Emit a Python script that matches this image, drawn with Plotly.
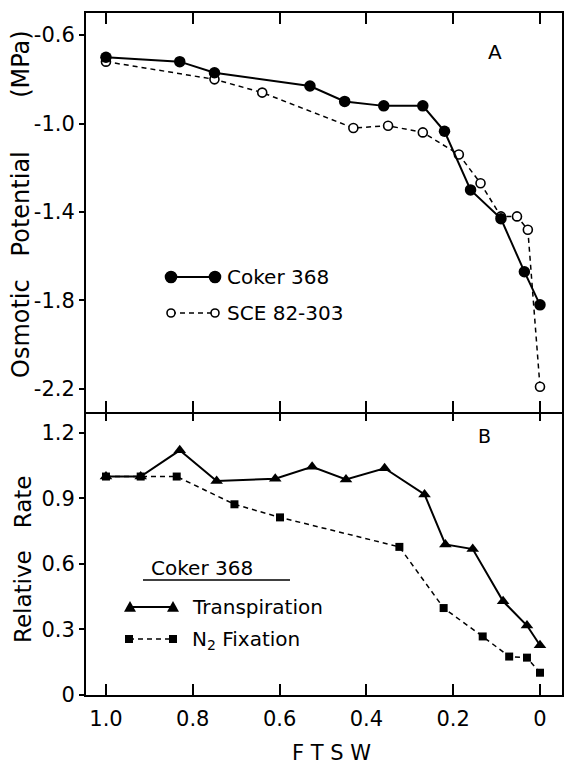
import plotly.graph_objects as go

# ---------------- data ----------------
# Panel A: osmotic potential (MPa) vs FTSW
coker_ftsw = [1.0, 0.83, 0.75, 0.53, 0.45, 0.36, 0.27, 0.22, 0.16, 0.09, 0.036, 0.0]
coker_osm = [-0.70, -0.72, -0.77, -0.83, -0.90, -0.92, -0.92, -1.035, -1.30, -1.43, -1.67, -1.82]

sce_ftsw = [1.0, 0.75, 0.64, 0.43, 0.35, 0.27, 0.187, 0.137, 0.09, 0.053, 0.028, 0.0]
sce_osm = [-0.72, -0.80, -0.86, -1.02, -1.01, -1.04, -1.14, -1.27, -1.42, -1.42, -1.48, -2.19]

# Panel B: relative rate vs FTSW (Coker 368)
trans_ftsw = [1.0, 0.92, 0.83, 0.745, 0.61, 0.525, 0.447, 0.358, 0.266, 0.218, 0.155, 0.085, 0.03, 0.0]
trans_rate = [1.0, 1.0, 1.12, 0.98, 0.99, 1.045, 0.987, 1.038, 0.918, 0.689, 0.668, 0.429, 0.318, 0.228]

n2_ftsw = [1.0, 0.92, 0.837, 0.704, 0.599, 0.324, 0.222, 0.132, 0.071, 0.03, 0.0]
n2_rate = [1.0, 1.0, 1.0, 0.873, 0.813, 0.678, 0.398, 0.268, 0.176, 0.171, 0.102]

x_tickvals = [1.0, 0.8, 0.6, 0.4, 0.2, 0.0]
x_ticktext = ["1.0", "0.8", "0.6", "0.4", "0.2", "0"]
ya_tickvals = [-0.6, -1.0, -1.4, -1.8, -2.2]
ya_ticktext = ["-0.6", "-1.0", "-1.4", "-1.8", "-2.2"]
yb_tickvals = [0, 0.3, 0.6, 0.9, 1.2]
yb_ticktext = ["0", "0.3", "0.6", "0.9", "1.2"]

# ---------------- layout geometry ----------------
W, H = 564, 766
L, R, T, B = 86, 2, 13, 71
PW, PH = W - L - R, H - T - B
DIV = (695 - 411) / PH  # bottom panel fraction
EPS = 1.0 / PH          # overlap so the two divider lines coincide

FONT = "DejaVu Sans"
X_RANGE = [1.046, -0.0507]
YA_RANGE = [-2.3 - 1.0 / 220.6, -0.5]
YB_RANGE = [0, 1.3 + 1.0 / 217.8]


def px(x):
    return (x - L) / PW


def py(y):
    return (H - B - y) / PH


fig = go.Figure()

# Panel A traces
fig.add_trace(go.Scatter(
    x=sce_ftsw, y=sce_osm, xaxis="x2", yaxis="y2", mode="lines+markers",
    line=dict(color="black", width=1.5, dash="5px,4px"),
    marker=dict(symbol="circle", size=9, color="white", line=dict(color="black", width=1.6)),
    showlegend=False))
fig.add_trace(go.Scatter(
    x=coker_ftsw, y=coker_osm, xaxis="x2", yaxis="y2", mode="lines+markers",
    line=dict(color="black", width=2),
    marker=dict(symbol="circle", size=11.5, color="black"),
    showlegend=False))

# Panel B traces
fig.add_trace(go.Scatter(
    x=n2_ftsw, y=n2_rate, xaxis="x", yaxis="y", mode="lines+markers",
    line=dict(color="black", width=1.5, dash="5px,4px"),
    marker=dict(symbol="square", size=8, color="black"),
    showlegend=False))
fig.add_trace(go.Scatter(
    x=trans_ftsw, y=trans_rate, xaxis="x", yaxis="y", mode="lines+markers",
    line=dict(color="black", width=2),
    marker=dict(symbol="triangle-up", size=11, color="black"),
    showlegend=False))

axis_common = dict(showgrid=False, zeroline=False, showline=True, linewidth=2,
                   linecolor="black", tickcolor="black", tickwidth=1.6, automargin=False,
                   tickfont=dict(family=FONT, size=21, color="black"))
overlay_common = dict(showticklabels=False, ticks="inside", ticklen=10, showgrid=False,
                      zeroline=False, showline=False, tickcolor="black", tickwidth=1.6,
                      automargin=False)

fig.update_layout(
    width=W, height=H,
    margin=dict(l=L, r=R, t=T, b=B, autoexpand=False),
    paper_bgcolor="white", plot_bgcolor="white",
    xaxis=dict(domain=[0, 1], anchor="y", range=X_RANGE, tickvals=x_tickvals,
               ticktext=x_ticktext, ticks="inside", ticklen=11, mirror="ticks",
               ticklabelstandoff=4, **axis_common),
    xaxis2=dict(domain=[0, 1], anchor="y2", range=X_RANGE, tickvals=x_tickvals,
                showticklabels=False, ticks="inside", ticklen=11, mirror="ticks",
                **axis_common),
    yaxis=dict(domain=[0, DIV + EPS], anchor="x", range=YB_RANGE, tickvals=yb_tickvals,
               ticktext=yb_ticktext, ticks="outside", ticklen=5, mirror=True,
               **axis_common),
    yaxis2=dict(domain=[DIV - EPS, 1], anchor="x2", range=YA_RANGE, tickvals=ya_tickvals,
                ticktext=ya_ticktext, ticks="outside", ticklen=5, mirror=True,
                **axis_common),
    yaxis3=dict(overlaying="y", anchor="x", side="right", range=YB_RANGE,
                tickvals=yb_tickvals, **overlay_common),
    yaxis4=dict(overlaying="y2", anchor="x2", side="right", range=YA_RANGE,
                tickvals=ya_tickvals, **overlay_common),
)

ann = []


def text(x, y, s, size, xanchor="left", angle=0, yanchor="middle"):
    ann.append(dict(x=px(x), y=py(y), xref="paper", yref="paper", text=s,
                    showarrow=False, xanchor=xanchor, yanchor=yanchor, textangle=angle,
                    borderpad=0,
                    font=dict(family=FONT, size=size, color="black")))


NB = "\u00a0"
text(21, 204, "Osmotic" + NB * 3 + "Potential" + NB * 7 + "(MPa)", 24, "center", -90)
text(23, 560, "Relative" + NB * 3 + "Rate", 23, "center", -90)
text(331, 766, "F" + NB + "T" + NB + "S" + NB + "W", 21, "center", yanchor="bottom")
text(495, 52, "A", 20, "center")
text(484, 436, "B", 19, "center")
text(226, 277, "Coker 368", 20)
text(226, 313, "SCE 82-303", 20)
text(150, 568, "Coker 368", 20)
text(191, 607, "Transpiration", 20)
text(191, 640, "N<sub>2</sub>" + NB + "Fixation", 20)

shapes = []


def seg(x0, x1, y, dash="solid", width=2):
    shapes.append(dict(type="line", xref="paper", yref="paper", x0=px(x0), x1=px(x1),
                       y0=py(y), y1=py(y), line=dict(color="black", width=width, dash=dash)))


def sym(kind, x, y, r, fill="black"):
    base = dict(xref="paper", yref="paper", xsizemode="pixel", ysizemode="pixel",
                xanchor=px(x), yanchor=py(y), line=dict(color="black", width=1.6),
                fillcolor=fill)
    if kind == "circle":
        base.update(type="circle", x0=-r, x1=r, y0=-r, y1=r)
    elif kind == "square":
        base.update(type="rect", x0=-r, x1=r, y0=-r, y1=r, line=dict(width=0))
    else:
        base.update(type="path", path=f"M {-r},{-r*0.8} L {r},{-r*0.8} L 0,{r*1.0} Z",
                    line=dict(width=0))
    shapes.append(base)


# legend A
seg(171, 215, 277)
sym("circle", 171, 277, 5.5)
sym("circle", 215, 277, 5.5)
seg(171, 215, 313, dash="5px,4px", width=1.5)
sym("circle", 171, 313, 4, fill="white")
sym("circle", 215, 313, 4, fill="white")
# legend B
seg(143, 290, 580, width=1.5)
seg(130, 173, 607)
sym("tri", 130, 607, 6)
sym("tri", 173, 607, 6)
seg(129, 173, 639, dash="5px,4px", width=1.5)
sym("square", 129, 639, 4)
sym("square", 173, 639, 4)

fig.update_layout(annotations=ann, shapes=shapes)

fig.write_html("out.html", config={"displayModeBar": False},
               post_script="document.body.style.margin='0px';document.body.style.overflow='hidden';")
